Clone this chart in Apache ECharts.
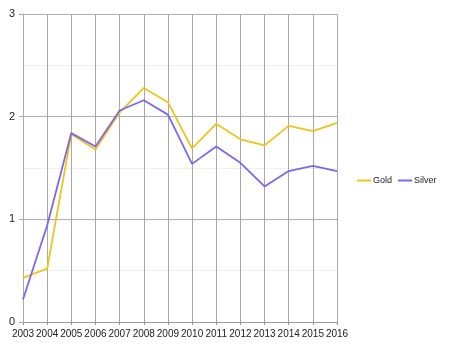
<!DOCTYPE html>
<html>
<head>
<meta charset="utf-8">
<script src="https://cdn.jsdelivr.net/npm/echarts@6/dist/echarts.min.js"></script>
<style>
  html, body { margin: 0; padding: 0; background: #fff; }
  #chart { width: 450px; height: 347px; }
</style>
</head>
<body>
<div id="chart"></div>
<script>
// Yearly values for the two metals
const years = ['2003','2004','2005','2006','2007','2008','2009','2010','2011','2012','2013','2014','2015','2016'];
const gold = [0.43, 0.52, 1.83, 1.68, 2.04, 2.28, 2.14, 1.69, 1.93, 1.78, 1.72, 1.91, 1.86, 1.94];
const silver = [0.22, 0.94, 1.84, 1.71, 2.06, 2.16, 2.02, 1.54, 1.71, 1.55, 1.32, 1.47, 1.52, 1.47];
const yTicks = [0, 1, 2, 3];

const chart = echarts.init(document.getElementById('chart'), null, { renderer: 'canvas' });
const font = 'Liberation Sans, Arial, sans-serif';

chart.setOption({
  animation: false,
  backgroundColor: '#fff',
  grid: { left: 23, right: 113, top: 14, bottom: 25, containLabel: false },
  legend: {
    data: ['Gold', 'Silver'],
    left: 352, top: 171,
    orient: 'horizontal',
    icon: 'rect',
    itemWidth: 14, itemHeight: 2, itemGap: 6,
    textStyle: { fontFamily: font, fontSize: 9, color: '#222', padding: [0, 0, 0, -3] }
  },
  xAxis: {
    type: 'category',
    data: years,
    boundaryGap: false,
    axisLine: { show: true, lineStyle: { color: '#999', width: 1 } },
    axisTick: { show: true, length: 3, lineStyle: { color: '#999' } },
    axisLabel: { fontFamily: font, fontSize: 10, color: '#222', margin: 7, interval: 0 },
    splitLine: { show: true, lineStyle: { color: '#a8a8a8', width: 1 } }
  },
  yAxis: {
    type: 'value',
    min: yTicks[0], max: yTicks[yTicks.length - 1], interval: 1,
    axisLine: { show: true, lineStyle: { color: '#aaa' } },
    axisTick: { show: true, length: 4, lineStyle: { color: '#aaa' } },
    axisLabel: { fontFamily: font, fontSize: 11, color: '#222', margin: 8 },
    splitLine: { show: true, lineStyle: { color: '#b0b0b0', width: 1 } },
    minorTick: { show: false, splitNumber: 2 },
    minorSplitLine: { show: true, lineStyle: { color: '#f0f0f0', width: 1 } }
  },
  series: [
    {
      name: 'Gold', type: 'line', data: gold,
      symbol: 'none', color: '#f0c419',
      lineStyle: { width: 1.8, color: '#f0c419' }
    },
    {
      name: 'Silver', type: 'line', data: silver,
      symbol: 'none', color: '#7b68ee',
      lineStyle: { width: 1.8, color: '#7b68ee' }
    }
  ]
});
</script>
</body>
</html>
